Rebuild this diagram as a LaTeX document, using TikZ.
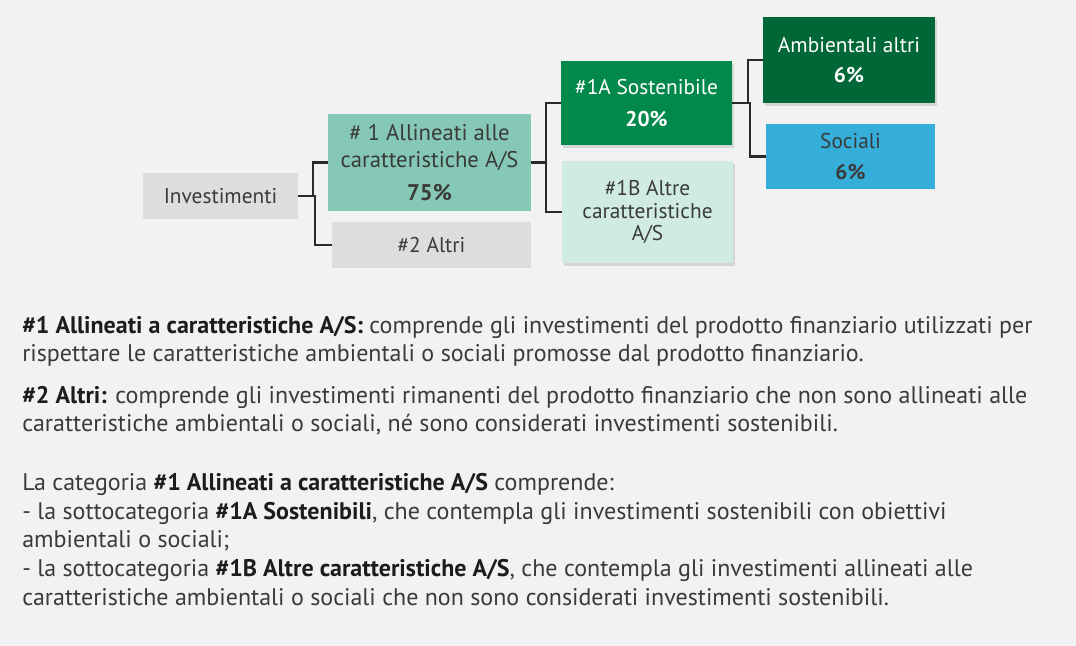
\documentclass[tikz,border=0pt]{standalone}
\usepackage{fontspec}
\setmainfont{PT Sans}
\usetikzlibrary{shadows}
\definecolor{bgGray}{HTML}{F2F2F2}
\definecolor{boxGray}{HTML}{DCDDDE}
\definecolor{tealMid}{HTML}{85C8B5}
\definecolor{tealPale}{HTML}{D0EBE4}
\definecolor{greenMid}{HTML}{00894B}
\definecolor{greenDark}{HTML}{006837}
\definecolor{skyBlue}{HTML}{35AED9}
\definecolor{inkGray}{HTML}{3A3A3A}
\definecolor{inkDark}{HTML}{1C1C1C}
\definecolor{lineGray}{HTML}{2A2A2A}
\newcommand{\hl}[1]{\textcolor{inkDark}{\textbf{#1}}}

\begin{document}
\begin{tikzpicture}[x=0.75pt,y=-0.75pt,
  box/.style={inner sep=0pt, align=center, text=inkGray, font=\fontsize{16}{20}\selectfont},
  shadebox/.style={box, drop shadow={opacity=.25, shadow xshift=1.5pt, shadow yshift=-2pt}},
  link/.style={line width=1.8pt, color=lineGray},
  note/.style={anchor=base west, inner sep=0pt, align=left, text=inkGray, font=\fontsize{18}{21}\selectfont}]
\fill[bgGray] (0,0) rectangle (1076,646);
% tree
\node[box, fill=boxGray, minimum width=116.25pt, minimum height=34.5pt] (inv) at (220.5,196) {Investimenti};
\node[box, fill=tealMid, minimum width=152.25pt, minimum height=72.75pt, font=\fontsize{17}{20}\selectfont] (all) at (429.5,162.5)
  {\# 1 Allineati alle\\caratteristiche A/S\\[5pt]\textbf{75\%}};
\node[box, fill=boxGray, minimum width=149.25pt, minimum height=34.5pt] (alt) at (431.5,245) {\#2 Altri};
\node[shadebox, fill=greenMid, text=white, minimum width=128.25pt, minimum height=63pt] (sos) at (646.5,103)
  {\#1A Sostenibile\\[4pt]\textbf{20\%}};
\node[shadebox, fill=tealPale, minimum width=128.25pt, minimum height=76.5pt, font=\fontsize{16}{17}\selectfont] (car) at (647.5,212)
  {\#1B Altre\\caratteristiche\\A/S};
\node[shadebox, fill=greenDark, text=white, minimum width=129pt, minimum height=64.5pt] (amb) at (849,60)
  {Ambientali altri\\[3pt]\textbf{6\%}};
\node[box, fill=skyBlue, minimum width=126.75pt, minimum height=48.75pt] (soc) at (850.5,156.5)
  {Sociali\\[3pt]\textbf{6\%}};
\draw[link] (inv.east) -- ++(15,0) |- (all.west);
\draw[link] (inv.east) -- ++(17,0) |- (alt.west);
\draw[link] (all.east) -- ++(15,0) |- (sos.west);
\draw[link] (all.east) -- ++(15,0) |- (car.west);
\draw[link] (sos.east) -- ++(16,0) |- (amb.west);
\draw[link] (sos.east) -- ++(18,0) |- (soc.west);
% notes (base = last line)
\node[note] (n1) at (22,361) {\hl{\#1 Allineati a caratteristiche A/S:} comprende gli investimenti del prodotto finanziario utilizzati per\\
  rispettare le caratteristiche ambientali o sociali promosse dal prodotto finanziario.};
\node[note] (n2) at (22,431) {\hl{\#2 Altri:} comprende gli investimenti rimanenti del prodotto finanziario che non sono allineati alle\\
  caratteristiche ambientali o sociali, né sono considerati investimenti sostenibili.};
\node[note, font=\fontsize{18}{21.5}\selectfont] (n3) at (22,605) {La categoria \hl{\#1 Allineati a caratteristiche A/S} comprende:\\
  - la sottocategoria \hl{\#1A Sostenibili}, che contempla gli investimenti sostenibili con obiettivi\\
  ambientali o sociali;\\
  - la sottocategoria \hl{\#1B Altre caratteristiche A/S}, che contempla gli investimenti allineati alle\\
  caratteristiche ambientali o sociali che non sono considerati investimenti sostenibili.};
\end{tikzpicture}
\end{document}
